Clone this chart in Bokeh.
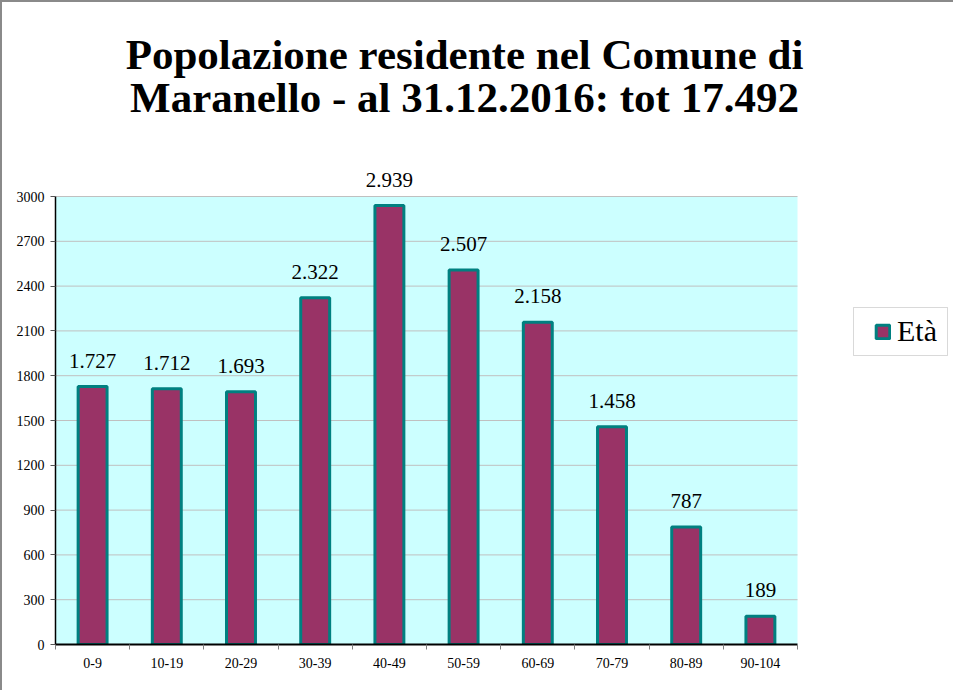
import numpy as np
from bokeh.plotting import figure
from bokeh.models import (ColumnDataSource, Range1d, FixedTicker, LabelSet, Label,
                          Legend, LegendItem, BoxAnnotation)
from bokeh.core.properties import value
from bokeh.embed import file_html
from bokeh.resources import INLINE

categories = ["0-9", "10-19", "20-29", "30-39", "40-49", "50-59", "60-69", "70-79", "80-89", "90-104"]
counts = [1727, 1712, 1693, 2322, 2939, 2507, 2158, 1458, 787, 189]
y_ticks = [0, 300, 600, 900, 1200, 1500, 1800, 2100, 2400, 2700, 3000]
title_lines = ["Popolazione residente nel Comune di", "Maranello - al 31.12.2016: tot 17.492"]
series_name = "Età"

SERIF = "Liberation Serif"

# layout (pixels)
W, H = 953, 690
LEFT, BOTTOM = 53, 48
PLOT_W, PLOT_H = 742, 448          # size of the chart area (0..n, 0..3000)
n = len(categories)
y_max = y_ticks[-1]
x_end = n * (W - LEFT) / PLOT_W
y_end = y_max * (H - BOTTOM) / PLOT_H

centers = [i + 0.5 for i in range(n)]
bounds = [float(i) for i in range(n + 1)]
labels = [f"{v:,}".replace(",", ".") for v in counts]

src = ColumnDataSource(dict(x=centers, top=counts, lab=labels))

p = figure(width=W, height=H, output_backend="svg", toolbar_location=None,
           x_range=Range1d(0, x_end), y_range=Range1d(0, y_end),
           min_border_left=LEFT, min_border_right=0, min_border_top=0, min_border_bottom=BOTTOM,
           styles={"border-top": "2px solid #8a8a8a", "border-left": "2px solid #8a8a8a"})
p.title.visible = False
p.background_fill_color = "white"
p.border_fill_color = "white"
p.outline_line_color = None
p.xgrid.visible = False
p.ygrid.visible = False

# chart area background and grid lines
p.quad(left=[0], right=[n], bottom=[0], top=[y_max], fill_color="#CCFFFF", line_color=None)
p.segment(x0=[0] * (len(y_ticks) - 1), x1=[n] * (len(y_ticks) - 1),
          y0=y_ticks[1:], y1=y_ticks[1:], line_color="#C0C0C0", line_width=1)

r = p.vbar(x="x", top="top", width=0.39, bottom=0, source=src,
           fill_color="#993366", line_color="#008080", line_width=3)

# axes
xa = p.xaxis[0]
xa.bounds = (0, n)
xa.ticker = FixedTicker(ticks=centers, minor_ticks=bounds)
xa.major_label_overrides = {c: lab for c, lab in zip(centers, categories)}
xa.major_tick_out = 0
xa.major_tick_in = 0
xa.minor_tick_out = 5
xa.minor_tick_in = 0
xa.minor_tick_line_color = "#7f7f7f"
xa.axis_line_color = "black"
xa.axis_line_width = 2
xa.major_label_text_font = SERIF
xa.major_label_text_font_size = "14px"
xa.major_label_text_color = "black"
xa.major_label_standoff = 8

ya = p.yaxis[0]
ya.bounds = (0, y_max)
ya.ticker = FixedTicker(ticks=y_ticks)
ya.major_tick_out = 5
ya.major_tick_in = 0
ya.minor_tick_line_color = None
ya.major_tick_line_color = "#555555"
ya.axis_line_color = "black"
ya.axis_line_width = 1.5
ya.major_label_text_font = SERIF
ya.major_label_text_font_size = "14px"
ya.major_label_text_color = "black"
ya.major_label_standoff = 6

# value labels
ls = LabelSet(x="x", y="top", text="lab", source=src, text_align="center",
              text_baseline="alphabetic", y_offset=19,
              text_font=value(SERIF), text_font_size="21px", text_color="black")
p.add_layout(ls)

# title (two lines)
for i, line in enumerate(title_lines):
    p.add_layout(Label(x=409, y=590 - 43 * i, x_units="screen", y_units="screen",
                       text=line, text_align="center", text_baseline="alphabetic",
                       text_font=SERIF, text_font_size="43px", text_font_style="bold",
                       text_color="black"))

# legend frame
p.add_layout(BoxAnnotation(left=798, right=892, bottom=289, top=337,
                           left_units="screen", right_units="screen",
                           bottom_units="screen", top_units="screen",
                           fill_color="white", fill_alpha=1,
                           line_color="#808080", line_width=1))

legend = Legend(items=[LegendItem(label=series_name, renderers=[r])],
                location=(819, 296), orientation="vertical",
                border_line_color=None, background_fill_alpha=0,
                label_text_font=SERIF, label_text_font_size="30px",
                label_text_color="black",
                glyph_width=17, glyph_height=17, padding=0, label_standoff=6,
                margin=0, spacing=0)
p.add_layout(legend)

open("out.html", "w").write(file_html(p, INLINE))
